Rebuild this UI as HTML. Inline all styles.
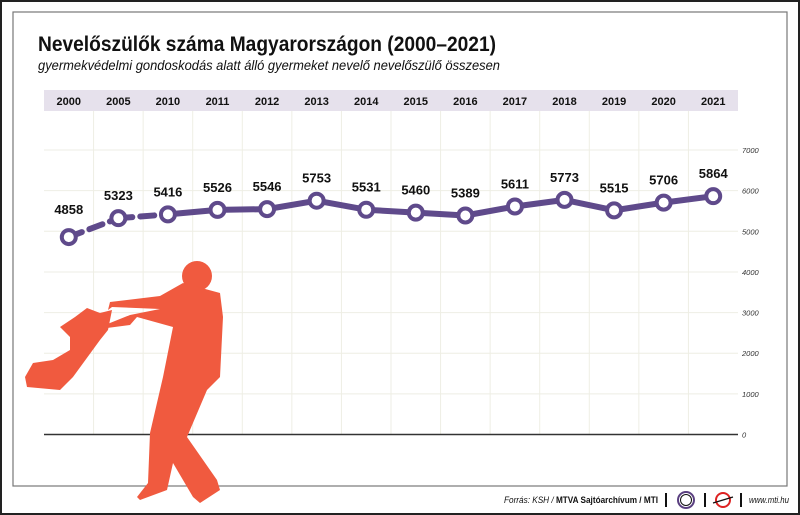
<!DOCTYPE html>
<html><head><meta charset="utf-8"><style>
body{margin:0;background:#fff}
svg{display:block;font-family:"Liberation Sans",sans-serif}
</style></head><body>
<svg width="800" height="515" viewBox="0 0 800 515">
<rect x="1" y="1" width="798" height="513" fill="#fff" stroke="#222" stroke-width="2"/>
<rect x="13" y="12" width="774" height="474" fill="none" stroke="#777" stroke-width="1.2"/>
<text x="38" y="51" font-size="21" font-weight="bold" fill="#111" textLength="458" lengthAdjust="spacingAndGlyphs">Nevelőszülők száma Magyarországon (2000–2021)</text>
<text x="38" y="70" font-size="14" font-style="italic" fill="#111" textLength="462" lengthAdjust="spacingAndGlyphs">gyermekvédelmi gondoskodás alatt álló gyermeket nevelő nevelőszülő összesen</text>
<rect x="44" y="90" width="694" height="21" fill="#e6e1ec"/>
<g id="grid"></g>
<line x1="44" y1="434.5" x2="738" y2="434.5" stroke="#333" stroke-width="1.5"/>
<g id="yticks"></g>
<g id="years"></g>
<g id="person" fill="#f05a3f">
<circle cx="197" cy="276" r="15"/>
<polygon points="183,283 220,293 223,317 220,377 207,390 187,437 217,480 220,490 200,503 193,497 173,463 167,490 140,500 137,497 148,483 150,433 163,377 173,327 137,317 130,325 107,328 105,325 130,315 160,309 112,307 108,310 110,302 160,296"/>
<polygon points="100,313 87,308 75,317 60,327 70,337 70,350 53,360 33,363 25,377 27,387 60,390 73,377 100,340 108,330 112,310"/>
</g>
<g id="series"></g>
<text x="504" y="503" font-size="9.5" fill="#111" textLength="154" lengthAdjust="spacingAndGlyphs"><tspan font-style="italic">Forrás: KSH / </tspan><tspan font-weight="bold">MTVA Sajtóarchívum / MTI</tspan></text>
<line x1="666" y1="493" x2="666" y2="507" stroke="#111" stroke-width="2"/>
<circle cx="686" cy="500" r="8" fill="#fff" stroke="#5a3f80" stroke-width="2"/>
<circle cx="686" cy="500" r="5.5" fill="none" stroke="#111" stroke-width="1"/>
<line x1="705" y1="493" x2="705" y2="507" stroke="#111" stroke-width="2"/>
<circle cx="723" cy="500" r="7" fill="none" stroke="#d22" stroke-width="2"/>
<line x1="713" y1="503" x2="733" y2="497" stroke="#111" stroke-width="1.2"/>
<line x1="741" y1="493" x2="741" y2="507" stroke="#111" stroke-width="2"/>
<text x="749" y="503" font-size="9.5" font-style="italic" fill="#111" textLength="40" lengthAdjust="spacingAndGlyphs">www.mti.hu</text>
</svg>
<script>
const years=["2000","2005","2010","2011","2012","2013","2014","2015","2016","2017","2018","2019","2020","2021"];
const values=[4858,5323,5416,5526,5546,5753,5531,5460,5389,5611,5773,5515,5706,5864];
const yTicks=[0,1000,2000,3000,4000,5000,6000,7000];
const NS="http://www.w3.org/2000/svg";
const x0=44,colW=694/14;
const xs=i=>x0+colW*(i+0.5);
const ys=v=>434.5-v*0.04064;
function mk(t,a,p){const e=document.createElementNS(NS,t);for(const k in a)e.setAttribute(k,a[k]);p.appendChild(e);return e;}
const grid=document.getElementById('grid'),yt=document.getElementById('yticks'),yr=document.getElementById('years'),se=document.getElementById('series');
for(let i=1;i<14;i++){const l=mk('line',{x1:x0+colW*i,x2:x0+colW*i,y1:111,y2:434,stroke:'#eeeee4','stroke-width':1},grid);

}
yTicks.forEach(v=>{if(v>0){const l=mk('line',{x1:x0,x2:738,y1:ys(v),y2:ys(v),stroke:'#eeeee4','stroke-width':1},grid);

}
const t=mk('text',{x:742,y:ys(v)+3,'font-size':7.5,'font-style':'italic',fill:'#333'},yt);t.textContent=v;

});
years.forEach((y,i)=>{const t=mk('text',{x:xs(i),y:105,'font-size':11,'font-weight':'bold','text-anchor':'middle',fill:'#111'},yr);t.textContent=y;

});
const col='#5f4a8b';
for(let i=0;i<values.length-1;i++){const a={x1:xs(i),y1:ys(values[i]),x2:xs(i+1),y2:ys(values[i+1]),stroke:col,'stroke-width':6};
if(i<2){a['stroke-dasharray']='14 8';a['stroke-linecap']='round';}
const l=mk('line',a,se);

}
values.forEach((v,i)=>{const c=mk('circle',{cx:xs(i),cy:ys(v),r:7,fill:'#fff',stroke:col,'stroke-width':4},se);


const t=mk('text',{x:xs(i),y:ys(v)-(i==0?23:18),'font-size':13,'font-weight':'bold','text-anchor':'middle',fill:'#111'},se);t.textContent=v;

});
</script>
</body></html>
